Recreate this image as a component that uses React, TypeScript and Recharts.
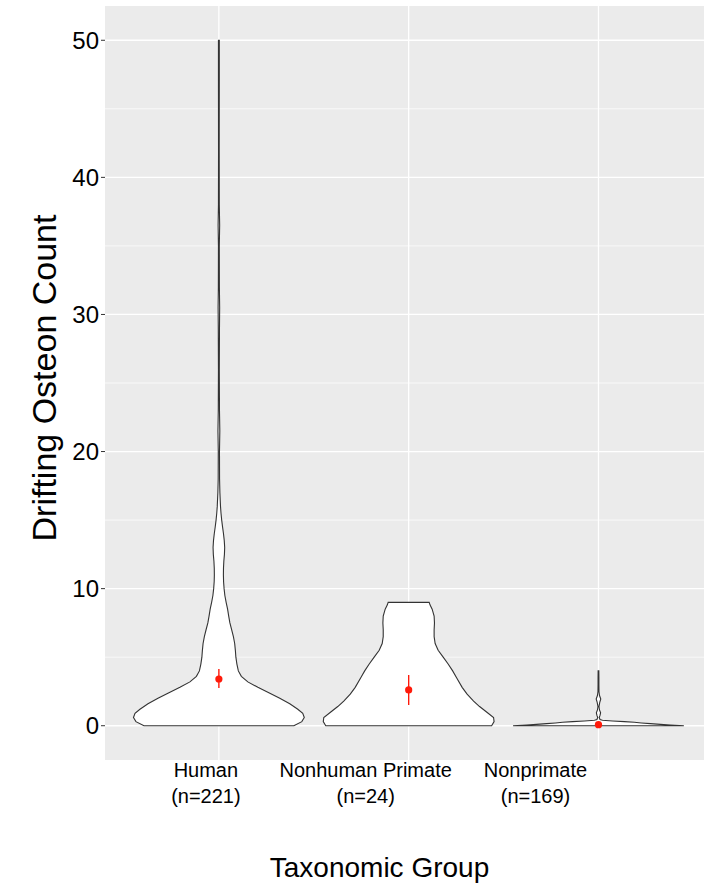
import React from 'react';
import { ComposedChart, Scatter, XAxis, YAxis, CartesianGrid, Label } from 'recharts';

// categories and sample sizes
const CATEGORIES = ['Human', 'Nonhuman Primate', 'Nonprimate'];
const SAMPLE_SIZES = [221, 24, 169];

// violin outlines: count level -> relative half width (1 = widest)
const HUMAN_Y = [0, 0.3, 0.6, 0.9, 1.2, 1.6, 2.0, 2.4, 2.8, 3.2, 3.6, 4.0, 4.5, 5.0, 5.5, 6.0, 6.5, 7.0, 7.5, 8.0, 8.5, 9.0, 9.5, 10.0, 10.5, 11.0, 11.5, 12.0, 12.5, 13.0, 13.5, 14.0, 14.5, 15.0, 15.5, 16.0, 17.0, 18.0, 20.0, 21.5, 23.0, 26.0, 29.0, 30.5, 32.0, 35.0, 36.5, 38.0, 42.0, 47.0, 50.0];
const HUMAN_W = [0.877, 0.971, 1.0, 0.982, 0.924, 0.83, 0.713, 0.585, 0.456, 0.339, 0.263, 0.228, 0.211, 0.199, 0.193, 0.185, 0.17, 0.15, 0.129, 0.115, 0.102, 0.085, 0.07, 0.061, 0.055, 0.053, 0.054, 0.058, 0.065, 0.068, 0.063, 0.054, 0.043, 0.033, 0.025, 0.019, 0.012, 0.008, 0.007, 0.011, 0.007, 0.005, 0.007, 0.009, 0.006, 0.005, 0.009, 0.005, 0.004, 0.005, 0.005];

const PRIMATE_Y = [0, 0.3, 0.6, 1.0, 1.4, 1.8, 2.3, 2.8, 3.5, 4.0, 4.5, 5.0, 5.5, 6.0, 6.5, 7.0, 7.5, 8.0, 8.5, 8.8, 9.0];
const PRIMATE_W = [0.971, 1.0, 0.994, 0.912, 0.83, 0.76, 0.684, 0.626, 0.561, 0.515, 0.462, 0.404, 0.345, 0.31, 0.298, 0.298, 0.302, 0.298, 0.275, 0.251, 0.24];

const NONPRIMATE_Y = [0, 0.05, 0.1, 0.15, 0.2, 0.25, 0.3, 0.35, 0.4, 0.45, 0.6, 0.75, 0.95, 1.15, 1.4, 1.7, 1.95, 2.2, 2.5, 3.0, 3.5, 4.0];
const NONPRIMATE_W = [1.0, 0.842, 0.725, 0.608, 0.503, 0.421, 0.304, 0.164, 0.047, 0.018, 0.009, 0.018, 0.025, 0.012, 0.006, 0.015, 0.027, 0.012, 0.006, 0.005, 0.005, 0.004];

// mean and interval per group
const MEANS = [3.41, 2.61, 0.08];
const CI_LOW = [2.75, 1.51, 0.03];
const CI_HIGH = [4.14, 3.7, 0.13];

const Y_TICKS = [0, 10, 20, 30, 40, 50];
const Y_MINOR = [5, 15, 25, 35, 45];

const HALF = 0.45;
const LABEL_SHIFT = [-13, -43, -63];
const RED = '#ff1a0a';
const FONT = '"Liberation Sans", Arial, Helvetica, sans-serif';

const outline = (cat: number, ys: number[], ws: number[]) => {
    const right = ys.map((y, i) => ({ x: cat + ws[i] * HALF, y }));
    const left = ys.map((y, i) => ({ x: cat - ws[i] * HALF, y })).reverse();
    return [...right, ...left];
};

const violins = [
    outline(1, HUMAN_Y, HUMAN_W),
    outline(2, PRIMATE_Y, PRIMATE_W),
    outline(3, NONPRIMATE_Y, NONPRIMATE_W),
];

const means = CATEGORIES.map((c, i) => ({ x: i + 1, y: MEANS[i] }));
const intervals = CATEGORIES.map((c, i) => [
    { x: i + 1, y: CI_LOW[i] },
    { x: i + 1, y: CI_HIGH[i] },
]);

const violinPath = (props: any) => {
    const pts = props.points || [];
    if (!pts.length) return <g />;
    const d = 'M' + pts.map((p: any) => `${p.x},${p.y}`).join('L') + 'Z';
    return <path d={d} fill="#fff" stroke="#333" strokeWidth={1.1} />;
};

const XTick = (props: any) => {
    const { x, y, payload } = props;
    const i = Math.round(payload.value) - 1;
    if (i < 0 || i > 2) return <g />;
    const cx = x + LABEL_SHIFT[i];
    return (
        <g>
            <text x={cx} y={y + 17} textAnchor="middle" fontSize={20} fill="#000">{CATEGORIES[i]}</text>
            <text x={cx} y={y + 43} textAnchor="middle" fontSize={20} fill="#000">{`(n=${SAMPLE_SIZES[i]})`}</text>
        </g>
    );
};

export default function App() {
    return (
        <div style={{ position: 'absolute', left: 0, top: 0, fontFamily: FONT, background: '#fff' }}>
            <ComposedChart width={704} height={884} margin={{ top: 6, right: 0, bottom: 0, left: 0 }}>
                <CartesianGrid
                    fill="#EBEBEB"
                    fillOpacity={1}
                    stroke="#fff"
                    strokeWidth={1.3}
                    horizontalValues={Y_TICKS}
                    verticalValues={[1, 2, 3]}
                />
                <CartesianGrid
                    stroke="#fff"
                    strokeWidth={0.7}
                    vertical={false}
                    horizontalValues={Y_MINOR}
                />
                <XAxis
                    type="number"
                    dataKey="x"
                    domain={[0.4, 3.556]}
                    ticks={[1, 2, 3]}
                    allowDataOverflow
                    axisLine={false}
                    tickLine={false}
                    tickSize={0}
                    tickMargin={0}
                    height={124}
                    tick={<XTick />}
                >
                    <Label
                        content={(p: any) => {
                            const vb = p.viewBox || { x: 105, y: 760, width: 599, height: 124 };
                            return (
                                <text x={vb.x + vb.width / 2 - 25} y={vb.y + vb.height - 7} textAnchor="middle" fontSize={28} fill="#000">
                                    Taxonomic Group
                                </text>
                            );
                        }}
                    />
                </XAxis>
                <YAxis
                    type="number"
                    dataKey="y"
                    domain={[-2.5, 52.5]}
                    ticks={Y_TICKS}
                    allowDataOverflow
                    width={105}
                    axisLine={false}
                    tickLine={{ stroke: '#333' }}
                    tickSize={4}
                    tickMargin={2}
                    tick={{ fill: '#000', fontSize: 24 }}
                >
                    <Label
                        content={(p: any) => {
                            const vb = p.viewBox || { x: 0, y: 6, width: 105, height: 754 };
                            const cy = vb.y + vb.height / 2 - 5;
                            return (
                                <text x={56} y={cy} transform={`rotate(-90 56 ${cy})`} textAnchor="middle" fontSize={34} fill="#000">
                                    Drifting Osteon Count
                                </text>
                            );
                        }}
                    />
                </YAxis>
                {violins.map((pts, i) => (
                    <Scatter
                        key={CATEGORIES[i]}
                        data={pts}
                        line={violinPath}
                        lineJointType="linear"
                        shape={() => <g />}
                        isAnimationActive={false}
                    />
                ))}
                {intervals.map((pts, i) => (
                    <Scatter
                        key={`ci-${i}`}
                        data={pts}
                        line={{ stroke: RED, strokeWidth: 1.4 }}
                        lineJointType="linear"
                        shape={() => <g />}
                        isAnimationActive={false}
                    />
                ))}
                <Scatter
                    data={means}
                    fill={RED}
                    isAnimationActive={false}
                    shape={(p: any) => <circle cx={p.cx} cy={p.cy} r={3.6} fill={RED} />}
                />
            </ComposedChart>
        </div>
    );
}
